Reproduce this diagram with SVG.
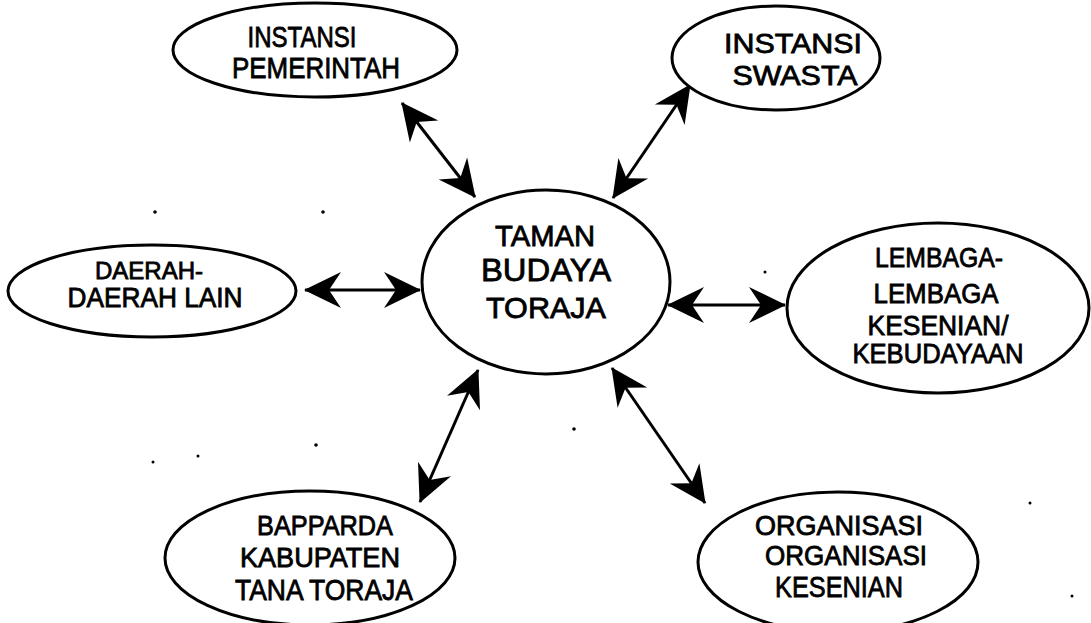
<svg xmlns="http://www.w3.org/2000/svg" width="1091" height="623" viewBox="0 0 1091 623">
<style>
.node ellipse{fill:#fff;stroke:#000;stroke-width:3}
.node text{font-family:"Liberation Sans",Arial,sans-serif;fill:#000;text-anchor:middle;stroke:#000;stroke-width:0.8}
.conn line{stroke:#000;stroke-width:3;marker-start:url(#ah);marker-end:url(#ah)}
.dot{fill:#000}
</style>
<defs>
<marker id="ah" markerUnits="userSpaceOnUse" viewBox="-40 -22 44 44" markerWidth="44" markerHeight="44" refX="0" refY="0" orient="auto-start-reverse">
<path d="M1,0 L-36,-18 L-24,0 L-36,18 Z" fill="#000"/>
</marker>
</defs>
<rect width="1091" height="623" fill="#fff"/>
<g id="connectors" class="conn">
<line x1="402" y1="103" x2="475" y2="197"/>
<line x1="690" y1="85" x2="613" y2="198"/>
<line x1="305" y1="290" x2="420" y2="290"/>
<line x1="668" y1="305" x2="785" y2="305"/>
<line x1="478" y1="370" x2="420" y2="502"/>
<line x1="612" y1="368" x2="705" y2="503"/>
</g>
<g id="instansi-pemerintah" class="node">
<ellipse cx="315" cy="50" rx="142" ry="47"/>
<text x="302" y="47" font-size="30" textLength="109" lengthAdjust="spacingAndGlyphs">INSTANSI</text>
<text x="316" y="78" font-size="30" textLength="168" lengthAdjust="spacingAndGlyphs">PEMERINTAH</text>
</g>
<g id="instansi-swasta" class="node">
<ellipse cx="776" cy="58" rx="104" ry="52"/>
<text x="793" y="53" font-size="28" textLength="138" lengthAdjust="spacingAndGlyphs">INSTANSI</text>
<text x="795" y="85" font-size="27" textLength="125" lengthAdjust="spacingAndGlyphs">SWASTA</text>
</g>
<g id="daerah-lain" class="node">
<ellipse cx="152" cy="291" rx="144" ry="46"/>
<text x="149" y="279" font-size="24" textLength="108" lengthAdjust="spacingAndGlyphs">DAERAH-</text>
<text x="155" y="307" font-size="27" textLength="175" lengthAdjust="spacingAndGlyphs">DAERAH LAIN</text>
</g>
<g id="taman-budaya-toraja" class="node">
<ellipse cx="546" cy="282" rx="124" ry="92"/>
<text x="545" y="246" font-size="30" textLength="100" lengthAdjust="spacingAndGlyphs">TAMAN</text>
<text x="546" y="281" font-size="32" textLength="130" lengthAdjust="spacingAndGlyphs">BUDAYA</text>
<text x="546" y="318" font-size="30" textLength="120" lengthAdjust="spacingAndGlyphs">TORAJA</text>
</g>
<g id="lembaga-kesenian" class="node">
<ellipse cx="938" cy="308" rx="151" ry="85"/>
<text x="939" y="267" font-size="27" textLength="128" lengthAdjust="spacingAndGlyphs">LEMBAGA-</text>
<text x="936" y="303" font-size="27" textLength="125" lengthAdjust="spacingAndGlyphs">LEMBAGA</text>
<text x="938" y="335" font-size="27" textLength="141" lengthAdjust="spacingAndGlyphs">KESENIAN/</text>
<text x="938" y="363" font-size="27" textLength="171" lengthAdjust="spacingAndGlyphs">KEBUDAYAAN</text>
</g>
<g id="bapparda" class="node">
<ellipse cx="310" cy="558" rx="145" ry="67"/>
<text x="325" y="535" font-size="27" textLength="136" lengthAdjust="spacingAndGlyphs">BAPPARDA</text>
<text x="320" y="567" font-size="27" textLength="160" lengthAdjust="spacingAndGlyphs">KABUPATEN</text>
<text x="324" y="600" font-size="29" textLength="178" lengthAdjust="spacingAndGlyphs">TANA TORAJA</text>
</g>
<g id="organisasi-kesenian" class="node">
<ellipse cx="838" cy="562" rx="140" ry="70"/>
<text x="839" y="535" font-size="27" textLength="168" lengthAdjust="spacingAndGlyphs">ORGANISASI</text>
<text x="846" y="565" font-size="27" textLength="162" lengthAdjust="spacingAndGlyphs">ORGANISASI</text>
<text x="839" y="597" font-size="29" textLength="128" lengthAdjust="spacingAndGlyphs">KESENIAN</text>
</g>
<g id="specks">
<circle class="dot" cx="155" cy="212" r="1.8"/>
<circle class="dot" cx="323" cy="212" r="1.8"/>
<circle class="dot" cx="765" cy="272" r="1.5"/>
<circle class="dot" cx="574" cy="429" r="1.8"/>
<circle class="dot" cx="316" cy="445" r="1.8"/>
<circle class="dot" cx="153" cy="462" r="1.5"/>
<circle class="dot" cx="198" cy="456" r="1.5"/>
<circle class="dot" cx="1030" cy="503" r="1.5"/>
<circle class="dot" cx="1072" cy="596" r="1.5"/>
</g>
</svg>
